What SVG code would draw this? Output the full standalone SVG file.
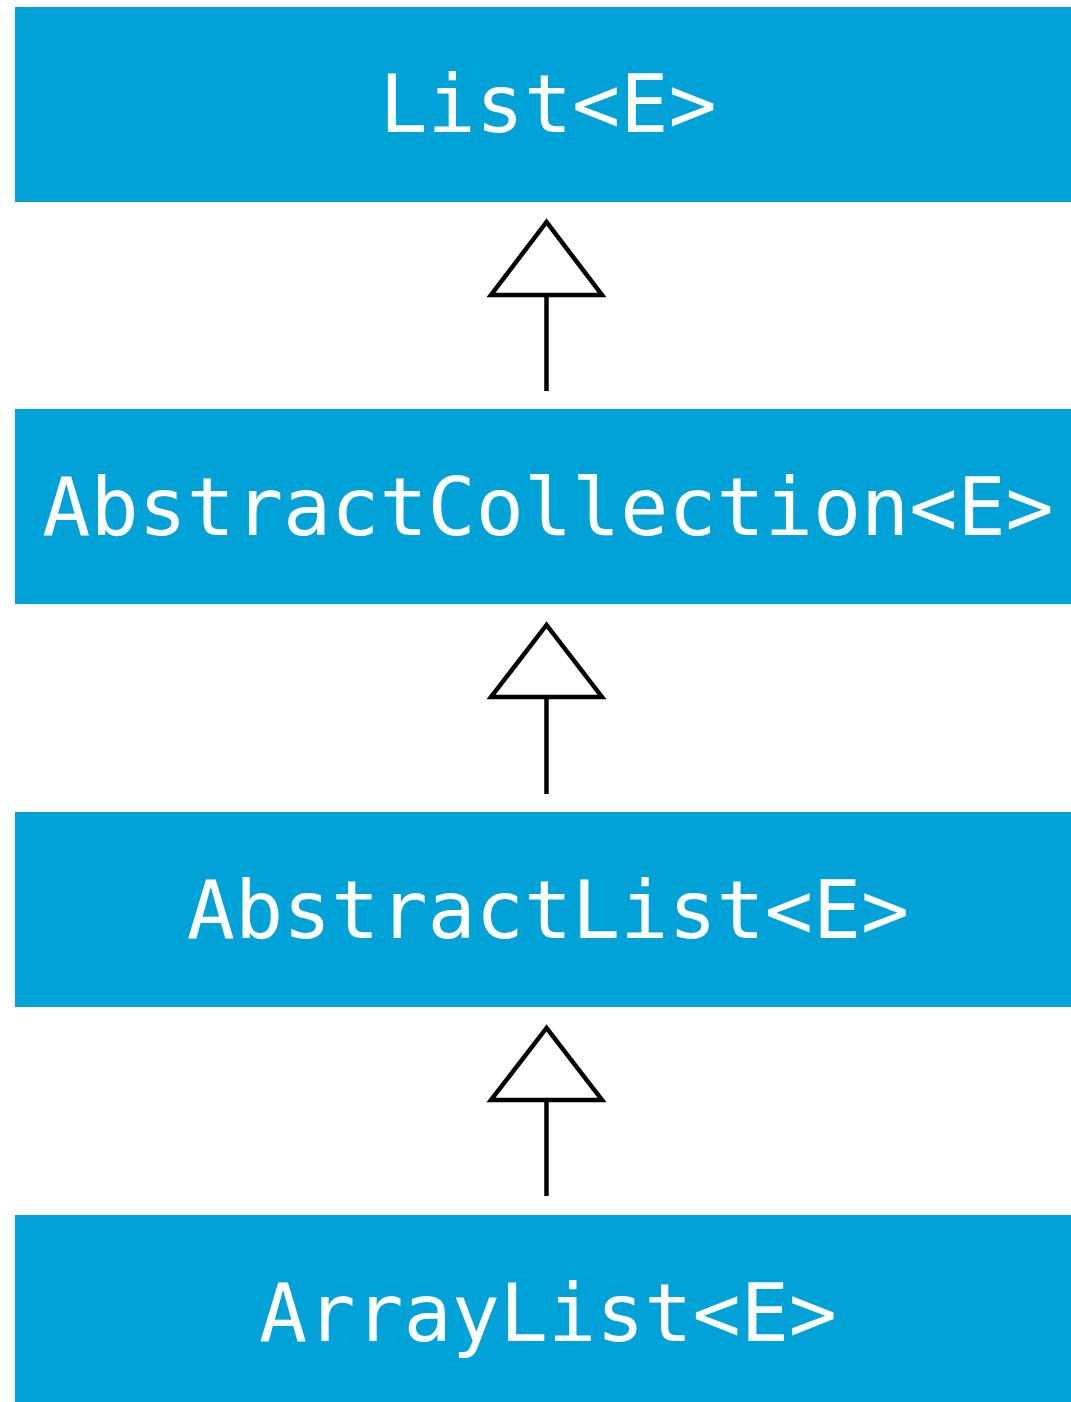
<svg xmlns="http://www.w3.org/2000/svg" width="1071" height="1402" viewBox="0 0 1071 1402">
<style>
.box{fill:#00a2d7}
.lbl{fill:#fff;font-family:"DejaVu Sans Mono",monospace;font-size:80px;text-anchor:middle}
.head{fill:#fff;stroke:#000;stroke-width:4.5;stroke-linejoin:miter}
.ln{stroke:#000;stroke-width:4.5;fill:none}
</style>
<rect width="1071" height="1402" fill="#fff"/>
<g id="list">
<rect class="box" x="15" y="7" width="1056" height="195"/>
<text class="lbl" x="548" y="132">List&lt;E&gt;</text>
</g>
<g id="abstractcollection">
<rect class="box" x="15" y="409" width="1056" height="195"/>
<text class="lbl" x="548" y="535">AbstractCollection&lt;E&gt;</text>
</g>
<g id="abstractlist">
<rect class="box" x="15" y="812" width="1056" height="195"/>
<text class="lbl" x="548" y="938">AbstractList&lt;E&gt;</text>
</g>
<g id="arraylist">
<rect class="box" x="15" y="1215" width="1056" height="187"/>
<text class="lbl" x="548" y="1341">ArrayList&lt;E&gt;</text>
</g>
<g id="connectors">
<line class="ln" x1="546.5" y1="295" x2="546.5" y2="391"/>
<polygon class="head" points="546.5,222 491,295 602,295"/>
<line class="ln" x1="546.5" y1="697" x2="546.5" y2="794"/>
<polygon class="head" points="546.5,625 491,697 602,697"/>
<line class="ln" x1="546.5" y1="1100" x2="546.5" y2="1196"/>
<polygon class="head" points="546.5,1028 491,1100 602,1100"/>
</g>
</svg>
